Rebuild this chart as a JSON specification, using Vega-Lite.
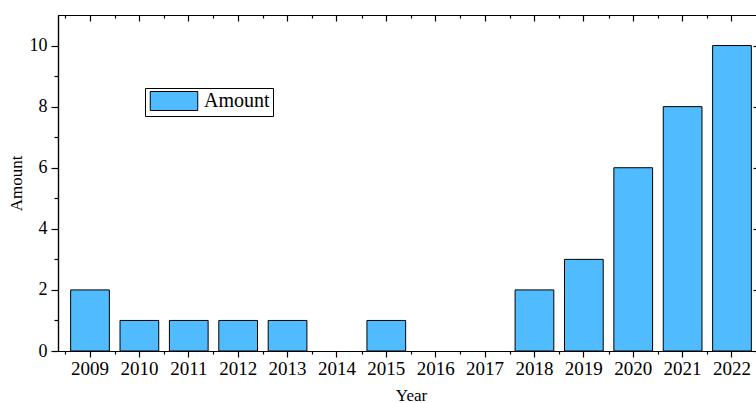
{
  "$schema": "https://vega.github.io/schema/vega-lite/v6.json",
  "autosize": {"type": "none"},
  "padding": {"left": 58, "top": 15, "right": 0, "bottom": 52},
  "width": 698,
  "height": 336,
  "background": "white",
  "config": {
    "view": {"stroke": null},
    "font": "Liberation Serif",
    "axis": {"domainColor": "black", "tickColor": "black", "domainWidth": 1.2, "tickWidth": 1.2, "labelColor": "black", "titleColor": "black", "grid": false, "labelFont": "Liberation Serif", "titleFont": "Liberation Serif", "titleFontWeight": "normal"}
  },
  "data": {
    "values": [
      {"Year": "2009", "Amount": 2, "series": "Amount"},
      {"Year": "2010", "Amount": 1, "series": "Amount"},
      {"Year": "2011", "Amount": 1, "series": "Amount"},
      {"Year": "2012", "Amount": 1, "series": "Amount"},
      {"Year": "2013", "Amount": 1, "series": "Amount"},
      {"Year": "2014", "Amount": 0, "series": "Amount"},
      {"Year": "2015", "Amount": 1, "series": "Amount"},
      {"Year": "2016", "Amount": 0, "series": "Amount"},
      {"Year": "2017", "Amount": 0, "series": "Amount"},
      {"Year": "2018", "Amount": 2, "series": "Amount"},
      {"Year": "2019", "Amount": 3, "series": "Amount"},
      {"Year": "2020", "Amount": 6, "series": "Amount"},
      {"Year": "2021", "Amount": 8, "series": "Amount"},
      {"Year": "2022", "Amount": 10, "series": "Amount"}
    ]
  },
  "layer": [
    {
      "mark": {"type": "bar", "stroke": "black"},
      "encoding": {
        "x": {"field": "Year", "type": "ordinal", "sort": null,
          "scale": {"range": [0, 706], "paddingInner": 0.216, "paddingOuter": 0.256},
          "axis": {"orient": "bottom", "title": "Year", "labelAngle": 0, "labelFontSize": 19, "tickSize": 6, "labelPadding": 2, "titleFontSize": 17, "titlePadding": 9}},
        "y": {"field": "Amount", "type": "quantitative",
          "scale": {"domain": [0, 11], "nice": false},
          "axis": {"orient": "left", "title": "Amount", "values": [0, 2, 4, 6, 8, 10], "labelFontSize": 18, "tickSize": 7, "labelPadding": 4, "titleFontSize": 17, "titlePadding": 4}},
        "strokeWidth": {"condition": {"test": "datum.Amount == 0", "value": 0}, "value": 1},
        "color": {"field": "series", "type": "nominal",
          "scale": {"range": ["#50BBFF"]},
          "legend": {"title": null, "orient": "none", "legendX": 87, "legendY": 73, "padding": 3, "strokeColor": "black", "fillColor": "white",
            "symbolType": "M-2.5,-1L2.5,-1L2.5,1L-2.5,1Z", "symbolSize": 361, "symbolOffset": 16, "symbolStrokeColor": "black", "symbolStrokeWidth": 1, "symbolOpacity": 1,
            "labelFont": "Liberation Serif", "labelFontSize": 20, "labelColor": "black", "labelOffset": 20}}
      }
    },
    {
      "mark": {"type": "bar", "opacity": 0},
      "encoding": {
        "x": {"field": "Year", "type": "ordinal", "sort": null,
          "axis": {"orient": "bottom", "title": null, "labels": false, "tickSize": 3, "tickOffset": -24.7}},
        "y": {"field": "Amount", "type": "quantitative",
          "axis": {"orient": "left", "title": null, "labels": false, "values": [1, 3, 5, 7, 9], "tickSize": 4}}
      }
    },
    {
      "mark": {"type": "bar", "opacity": 0},
      "encoding": {
        "x": {"field": "Year", "type": "ordinal", "sort": null,
          "axis": {"orient": "top", "title": null, "labels": false, "tickSize": -6}},
        "y": {"field": "Amount", "type": "quantitative",
          "axis": {"orient": "right", "title": null, "labels": false, "values": [0, 2, 4, 6, 8, 10], "tickSize": -6, "offset": 3}}
      }
    },
    {
      "mark": {"type": "bar", "opacity": 0},
      "encoding": {
        "x": {"field": "Year", "type": "ordinal", "sort": null,
          "axis": {"orient": "top", "title": null, "labels": false, "tickSize": -3, "tickOffset": -24.7}},
        "y": {"field": "Amount", "type": "quantitative",
          "axis": {"orient": "right", "title": null, "labels": false, "values": [1, 3, 5, 7, 9], "tickSize": -3, "offset": 3}}
      }
    }
  ],
  "resolve": {"axis": {"x": "independent", "y": "independent"}}
}
